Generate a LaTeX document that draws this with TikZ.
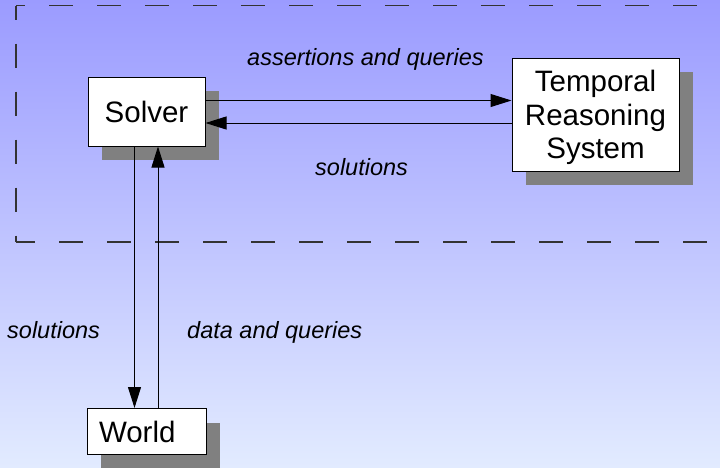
\documentclass[tikz,border=0pt]{standalone}
\usepackage{fontspec}
\setmainfont{Liberation Sans}
\usetikzlibrary{arrows.meta,shadows}
\definecolor{bgtop}{RGB}{155,155,255}
\definecolor{bgbot}{RGB}{226,235,255}
\definecolor{shadowgray}{RGB}{128,128,128}

\begin{document}
\begin{tikzpicture}[x=1pt, y=-1pt,
		box/.style={draw=black, fill=white, line width=1pt, inner sep=0pt,
			font=\fontsize{29.5}{33.3}\selectfont,
			drop shadow={shadow xshift=14pt, shadow yshift=-14pt, fill=shadowgray, opacity=1}},
		lbl/.style={font=\fontsize{23.5}{28}\selectfont\itshape, inner sep=0pt, anchor=base west},
		frame/.style={line width=1.2pt, draw=black!80, dash pattern=on 24pt off 24pt},
		>={Triangle[length=21pt, width=13pt]}
		]
		\shade[top color=bgtop, bottom color=bgbot] (0,0) rectangle (720,467);
		\useasboundingbox (0,0) rectangle (720,467);
		
		\draw[frame, dash phase=15pt] (16,5.5) -- (725,5.5);
		\draw[frame, dash phase=10pt] (16,5.5) -- (16,242);
		\draw[frame, dash phase=5pt] (16,242) -- (725,242);
		
		\node[box, minimum width=117pt, minimum height=69pt] (solver) at (146.5, 111.5) {Solver};
		\node[box, minimum width=167pt, minimum height=113pt, align=center, text depth=0pt] (trs) at (595.5, 114.5) {Temporal\\Reasoning\\System};
		\node[box, inner xsep=12pt, text width=95pt, minimum height=46pt, align=left] (world) at (146.5, 431.5) {World};
		
		\path (solver.east) ++(0,-11) coordinate (s2t);
		\path (trs.west) ++(0,8.5) coordinate (t2s);
		\path (solver.south) ++(-12,0) coordinate (s2w);
		\path (world.north) ++(11.5,0) coordinate (w2s);
		\draw[->, line width=1pt] (s2t) -- (s2t -| trs.west);
		\draw[->, line width=1pt] (t2s) -- (t2s -| solver.east);
		\draw[->, line width=1pt] (s2w) -- (s2w |- world.north);
		\draw[->, line width=1pt] (w2s) -- (w2s |- solver.south);
		
		\node[lbl] (l1) at (247, 65) {assertions and queries};
		\node[lbl] (l2) at (315, 175) {solutions};
		\node[lbl] (l3) at (7, 338) {solutions};
		\node[lbl] (l4) at (187, 338) {data and queries};
		
\end{tikzpicture}
\end{document}
